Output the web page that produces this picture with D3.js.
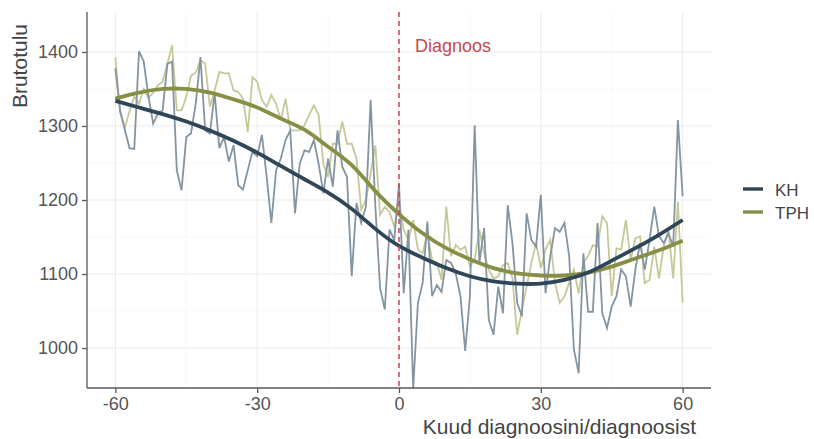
<!DOCTYPE html>
<html>
<head>
<meta charset="utf-8">
<script src="https://cdn.jsdelivr.net/npm/d3@7"></script>
<style>
  body { margin: 0; background: #fff; }
  svg { font-family: "Liberation Sans", Arial, sans-serif; }
</style>
</head>
<body>
<script>
// months relative to diagnosis
var months = d3.range(-60, 61);

// monthly gross income, KH
var khRaw = [
  1378, 1321, 1295, 1270, 1269, 1401, 1387, 1340, 1303, 1317,
  1321, 1384, 1387, 1240, 1213, 1285, 1290, 1330, 1393, 1294,
  1290, 1344, 1270, 1285, 1252, 1274, 1220, 1214, 1240, 1265,
  1259, 1288, 1232, 1169, 1240, 1256, 1281, 1294, 1182, 1249,
  1267, 1265, 1281, 1249, 1209, 1256, 1218, 1294, 1245, 1231,
  1097, 1196, 1169, 1191, 1335, 1191, 1081, 1052, 1160, 1146,
  1222, 1074, 1160, 945, 1061, 1088, 1171, 1070, 1085, 1076,
  1119, 1115, 1101, 1070, 996, 1070, 1301, 1115, 1162, 1038,
  1018, 1083, 1047, 1193, 1142, 1061, 1043, 1182, 1146, 1137,
  1207, 1074, 1124, 1162, 1157, 1169, 1124, 998, 966, 1128,
  1049, 1049, 1169, 1047, 1027, 1056, 1070, 1106, 1097, 1056,
  1106, 1142, 1106, 1146, 1191, 1151, 1142, 1155, 1137, 1308,
  1205
];

// monthly gross income, TPH
var tphRaw = [
  1393, 1318, 1298, 1320, 1340, 1330, 1350, 1338, 1345, 1355,
  1360, 1384, 1409, 1321, 1321, 1339, 1368, 1372, 1389, 1384,
  1326, 1348, 1373, 1371, 1371, 1348, 1346, 1337, 1292, 1366,
  1360, 1335, 1326, 1342, 1330, 1308, 1337, 1294, 1294, 1294,
  1301, 1315, 1328, 1315, 1249, 1231, 1276, 1276, 1306, 1276,
  1276, 1256, 1187, 1200, 1236, 1274, 1180, 1191, 1184, 1164,
  1196, 1160, 1146, 1173, 1133, 1128, 1155, 1119, 1115, 1092,
  1191, 1124, 1139, 1133, 1137, 1110, 1119, 1160, 1128, 1106,
  1094, 1097, 1112, 1115, 1094, 1018, 1052, 1083, 1115, 1142,
  1108, 1133, 1146, 1088, 1061, 1070, 1088, 1106, 1074, 1115,
  1124, 1139, 1137, 1178, 1169, 1070, 1135, 1133, 1173, 1119,
  1148, 1151, 1088, 1092, 1137, 1094, 1137, 1160, 1094, 1198,
  1061
];

// smoothed trend, read every 5 months
var smoothMonths = d3.range(-60, 61, 5);
var khSmooth = [
  1334, 1325, 1316, 1306, 1294, 1280, 1264, 1246, 1228, 1210,
  1188, 1161, 1138, 1122, 1108, 1097, 1090, 1087, 1087, 1092,
  1102, 1118, 1135, 1153, 1173
];
var tphSmooth = [
  1337, 1345, 1350, 1350, 1345, 1336, 1325, 1310, 1295, 1272,
  1247, 1212, 1181, 1155, 1135, 1120, 1108, 1101, 1098, 1098,
  1102, 1110, 1121, 1132, 1145
];

var xTicks = [-60, -30, 0, 30, 60];
var xMinor = [-45, -15, 15, 45];
var yTicks = [1000, 1100, 1200, 1300, 1400];
var yMinor = [1050, 1150, 1250, 1350];

var series = ["KH", "TPH"];
var rawColor = { KH: "#8494a1", TPH: "#c5c999" };
var lineColor = { KH: "#2f4558", TPH: "#878f47" };

var W = 814, H = 439;
var panel = { left: 87, right: 711, top: 12, bottom: 388 };

var svg = d3.select("body").append("svg")
    .attr("width", W)
    .attr("height", H);

var x = d3.scaleLinear()
    .domain([-66, 66])
    .range([panel.left, panel.right]);

var y = d3.scaleLinear()
    .domain([946, 1454])
    .range([panel.bottom, panel.top]);

svg.append("clipPath").attr("id", "clip")
  .append("rect")
    .attr("x", panel.left)
    .attr("y", panel.top)
    .attr("width", panel.right - panel.left)
    .attr("height", panel.bottom - panel.top);

// grid
var grid = svg.append("g");
grid.selectAll(".ymin").data(yMinor).enter().append("line")
    .attr("x1", panel.left).attr("x2", panel.right)
    .attr("y1", function (d) { return y(d); }).attr("y2", function (d) { return y(d); })
    .style("stroke", "#f3f3f3").style("stroke-width", 0.6);
grid.selectAll(".xmin").data(xMinor).enter().append("line")
    .attr("y1", panel.top).attr("y2", panel.bottom)
    .attr("x1", function (d) { return x(d); }).attr("x2", function (d) { return x(d); })
    .style("stroke", "#f3f3f3").style("stroke-width", 0.6);
grid.selectAll(".ymaj").data(yTicks).enter().append("line")
    .attr("x1", panel.left).attr("x2", panel.right)
    .attr("y1", function (d) { return y(d); }).attr("y2", function (d) { return y(d); })
    .style("stroke", "#ebebeb").style("stroke-width", 1);
grid.selectAll(".xmaj").data(xTicks).enter().append("line")
    .attr("y1", panel.top).attr("y2", panel.bottom)
    .attr("x1", function (d) { return x(d); }).attr("x2", function (d) { return x(d); })
    .style("stroke", "#ebebeb").style("stroke-width", 1);

var plot = svg.append("g").attr("clip-path", "url(#clip)");

var rawLine = d3.line()
    .x(function (d, i) { return x(months[i]); })
    .y(function (d) { return y(d); });

var smoothLine = d3.line()
    .x(function (d, i) { return x(smoothMonths[i]); })
    .y(function (d) { return y(d); })
    .curve(d3.curveNatural);

plot.append("path").datum(tphRaw)
    .attr("d", rawLine)
    .style("fill", "none").style("stroke", rawColor.TPH).style("stroke-width", 1.8);
plot.append("path").datum(khRaw)
    .attr("d", rawLine)
    .style("fill", "none").style("stroke", rawColor.KH).style("stroke-width", 1.8);

plot.append("path").datum(tphSmooth)
    .attr("d", smoothLine)
    .style("fill", "none").style("stroke", lineColor.TPH).style("stroke-width", 3.8);
plot.append("path").datum(khSmooth)
    .attr("d", smoothLine)
    .style("fill", "none").style("stroke", lineColor.KH).style("stroke-width", 3.8);

// diagnosis marker
svg.append("line")
    .attr("x1", x(0)).attr("x2", x(0))
    .attr("y1", panel.top).attr("y2", panel.bottom)
    .style("stroke", "#c8474f").style("stroke-width", 1.5)
    .style("stroke-dasharray", "5,4");
svg.append("text")
    .attr("x", x(0) + 16).attr("y", 52)
    .style("font-size", "18px").style("fill", "#c8474f")
    .text("Diagnoos");

// axes
var fmt = function (d) { return String(d); };
var xAxis = svg.append("g")
    .attr("transform", "translate(0," + panel.bottom + ")")
    .call(d3.axisBottom(x).tickValues(xTicks).tickFormat(fmt).tickSize(5).tickPadding(4));
var yAxis = svg.append("g")
    .attr("transform", "translate(" + panel.left + ",0)")
    .call(d3.axisLeft(y).tickValues(yTicks).tickFormat(fmt).tickSize(5).tickPadding(4));

[xAxis, yAxis].forEach(function (a) {
    a.select(".domain").style("stroke", "#5a5a5a").style("stroke-width", 1.3);
    a.selectAll(".tick line").style("stroke", "#5a5a5a").style("stroke-width", 1.3);
    a.selectAll(".tick text")
        .style("font-size", "18px").style("fill", "#555")
        .style("font-family", "'Liberation Sans', Arial, sans-serif");
});
yAxis.select(".domain").attr("d", "M0," + panel.bottom + "V" + panel.top);
xAxis.select(".domain").attr("d", "M" + panel.left + ",0H" + panel.right);

// axis titles
svg.append("text")
    .attr("text-anchor", "end")
    .attr("x", 696).attr("y", 434)
    .style("font-size", "21px").style("fill", "#444")
    .text("Kuud diagnoosini/diagnoosist");

svg.append("text")
    .attr("text-anchor", "end")
    .attr("transform", "translate(27,24) rotate(-90)")
    .style("font-size", "21px").style("fill", "#444")
    .text("Brutotulu");

// legend
var legend = svg.append("g");
series.forEach(function (s, i) {
    var ly = 189 + i * 23;
    legend.append("line")
        .attr("x1", 743).attr("x2", 763)
        .attr("y1", ly).attr("y2", ly)
        .style("stroke", lineColor[s]).style("stroke-width", 3.4);
    legend.append("text")
        .attr("x", 775).attr("y", ly + 7)
        .style("font-size", "17px").style("fill", "#444")
        .text(s);
});
</script>
</body>
</html>
